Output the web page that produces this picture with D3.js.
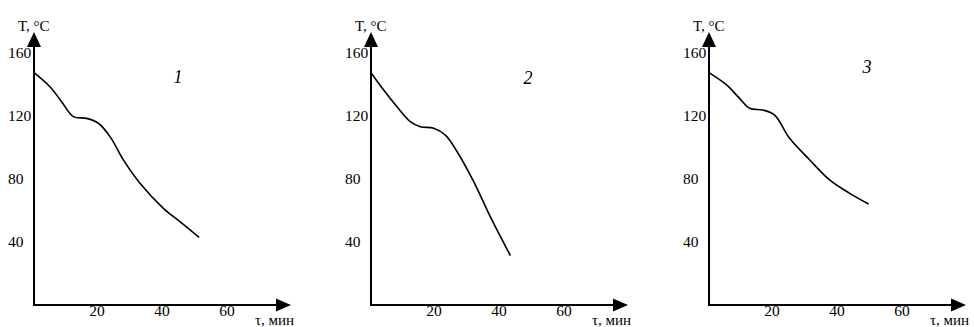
<!DOCTYPE html>
<html>
<head>
<meta charset="utf-8">
<script src="https://cdn.jsdelivr.net/npm/d3@7"></script>
<style>
  body { margin: 0; background: #fff; }
  svg { display: block; }
</style>
</head>
<body>
<svg></svg>
<script>
const W = 974,
  H = 327,
  FONT = "'Liberation Serif', 'Times New Roman', serif",
  yTicks = [40, 80, 120, 160],
  xTicks = [20, 40, 60],
  labels = ["1", "2", "3"],
  Y_TITLE = "T, °C",
  X_TITLE = "τ, мин";

// time (min), temperature (°C)
const t1 = [0, 4.9, 8.5, 12.1, 16.2, 19.8, 23.4, 27.5, 32.6, 39.8, 44.9, 50.8],
  T1 = [147.5, 138.6, 129.1, 119.6, 118.5, 115.4, 106.9, 92.1, 77.3, 61.4, 52.9, 43];
const t2 = [0, 3.9, 8.0, 12.1, 15.2, 19.3, 22.9, 26.5, 31.6, 36.7, 42.9],
  T2 = [147.5, 136.5, 125.9, 116.4, 113.2, 112.2, 107.9, 97.3, 78.3, 56.1, 31.3];
const t3 = [0, 5.4, 9.4, 12.5, 16.6, 20.2, 24.8, 31.0, 37.1, 43.3, 49.1],
  T3 = [147.5, 139.7, 131.2, 124.9, 123.8, 120.6, 105.8, 92.1, 79.4, 70.9, 64.1];

const series = [[t1, T1], [t2, T2], [t3, T3]];

// layout of each small chart
const panels = [
  { ax: 34, lab: { x: 178, y: 83 } },
  { ax: 371, lab: { x: 528, y: 84 } },
  { ax: 709, lab: { x: 867, y: 73 } }
];

var svg = d3.select("svg")
  .attr("width", W)
  .attr("height", H)
  .attr("font-family", FONT);

var y = d3.scaleLinear().domain([0, 160]).range([305, 53]);

panels.forEach(function (p, i) {
  var g = svg.append("g");
  var x = d3.scaleLinear().domain([0, 60]).range([p.ax, p.ax + 195]);
  var x0 = p.ax,
    y0 = 305,
    xEnd = p.ax + 257,
    yEnd = 32;

  // axes
  g.append("line")
    .attr("x1", x0).attr("y1", y0).attr("x2", xEnd - 12).attr("y2", y0)
    .attr("stroke", "#000").attr("stroke-width", 2);
  g.append("line")
    .attr("x1", x0).attr("y1", y0 + 1).attr("x2", x0).attr("y2", yEnd + 12)
    .attr("stroke", "#000").attr("stroke-width", 2);

  // arrow heads
  g.append("path")
    .attr("d", "M" + xEnd + "," + y0 + "L" + (xEnd - 15) + "," + (y0 - 6.5) + "L" + (xEnd - 15) + "," + (y0 + 6.5) + "Z")
    .attr("fill", "#000");
  g.append("path")
    .attr("d", "M" + x0 + "," + yEnd + "L" + (x0 - 7) + "," + (yEnd + 15) + "L" + (x0 + 7) + "," + (yEnd + 15) + "Z")
    .attr("fill", "#000");

  // tick labels
  g.selectAll(".yt")
    .data(yTicks)
    .enter()
    .append("text")
    .attr("x", x0 - 26)
    .attr("y", d => y(d))
    .attr("dy", "0.35em")
    .attr("font-size", 15.5)
    .text(d => d);

  g.selectAll(".xt")
    .data(xTicks)
    .enter()
    .append("text")
    .attr("x", d => x(d) - 2)
    .attr("y", 316)
    .attr("text-anchor", "middle")
    .attr("font-size", 15.5)
    .text(d => d);

  // axis titles
  g.append("text")
    .attr("x", x0 - 16)
    .attr("y", 31)
    .attr("font-size", 15)
    .text(Y_TITLE);
  g.append("text")
    .attr("x", x0 + 221)
    .attr("y", 325)
    .attr("font-size", 15)
    .text(X_TITLE);

  // curve
  var s = series[i];
  var pts = s[0].map((t, k) => [t, s[1][k]]);
  var line = d3.line()
    .x(d => x(d[0]))
    .y(d => y(d[1]))
    .curve(d3.curveCatmullRom.alpha(0.5));
  g.append("path")
    .attr("d", line(pts))
    .attr("fill", "none")
    .attr("stroke", "#000")
    .attr("stroke-width", 1.6);

  // curve number
  g.append("text")
    .attr("x", p.lab.x)
    .attr("y", p.lab.y)
    .attr("text-anchor", "middle")
    .attr("font-size", 18)
    .attr("font-style", "italic")
    .text(labels[i]);
});
</script>
</body>
</html>
